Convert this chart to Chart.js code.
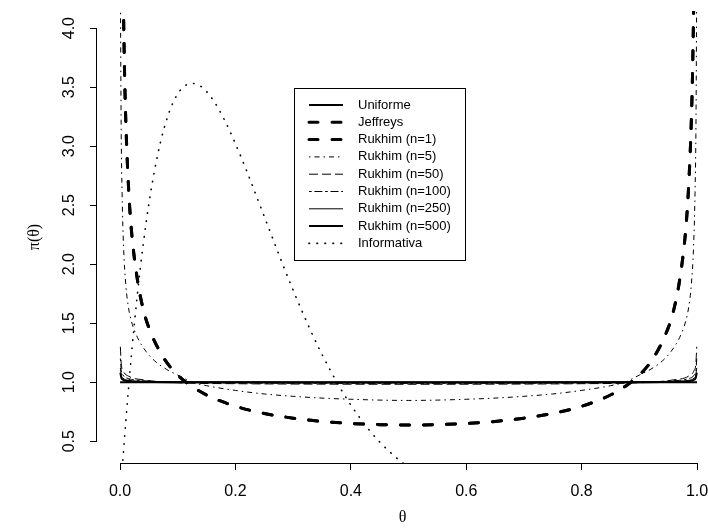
<!DOCTYPE html>
<html>
<head>
<meta charset="utf-8">
<script src="https://cdn.jsdelivr.net/npm/chart.js@4.4.1/dist/chart.umd.min.js"></script>
<style>
  html, body { margin: 0; padding: 0; background: #fff; }
  #wrap { width: 708px; height: 532px; }
</style>
</head>
<body>
<div id="wrap"><canvas id="priorChart"></canvas></div>
<script>
// tick labels
const xTicks = [0, 0.2, 0.4, 0.6, 0.8, 1.0];
const yTicks = [0.5, 1.0, 1.5, 2.0, 2.5, 3.0, 3.5, 4.0];

// Uniforme
const thetaUnif = [0, 1];
const uniforme = [1, 1];

// Jeffreys and Rukhim (n=1) share the same curve
const thetaJef = [0.004, 0.005, 0.0075, 0.01, 0.015, 0.02, 0.03, 0.04, 0.05, 0.075, 0.1, 0.125, 0.15, 0.2, 0.25, 0.3, 0.35, 0.4, 0.45,
                  0.5,
                  0.55, 0.6, 0.65, 0.7, 0.75, 0.8, 0.85, 0.875, 0.9, 0.925, 0.95, 0.96, 0.97, 0.98, 0.985, 0.99, 0.9925, 0.995, 0.996];
const jeffreys = [5.04, 4.51, 3.69, 3.20, 2.62, 2.27, 1.87, 1.62, 1.46, 1.21, 1.06, 0.963, 0.891, 0.796, 0.735, 0.695, 0.667, 0.650, 0.640,
                  0.637,
                  0.640, 0.650, 0.667, 0.695, 0.735, 0.796, 0.891, 0.963, 1.06, 1.21, 1.46, 1.62, 1.87, 2.27, 2.62, 3.20, 3.69, 4.51, 5.04];
const rukhim1 = [5.04, 4.51, 3.69, 3.20, 2.62, 2.27, 1.87, 1.62, 1.46, 1.21, 1.06, 0.963, 0.891, 0.796, 0.735, 0.695, 0.667, 0.650, 0.640,
                 0.637,
                 0.640, 0.650, 0.667, 0.695, 0.735, 0.796, 0.891, 0.963, 1.06, 1.21, 1.46, 1.62, 1.87, 2.27, 2.62, 3.20, 3.69, 4.51, 5.04];

// Rukhim (n=5)
const thetaR5 = [0.0005, 0.001, 0.002, 0.0035, 0.006, 0.01, 0.015, 0.02, 0.03, 0.045, 0.06, 0.08, 0.1, 0.125, 0.15, 0.2, 0.25, 0.3, 0.35, 0.4, 0.45,
                 0.5,
                 0.55, 0.6, 0.65, 0.7, 0.75, 0.8, 0.85, 0.875, 0.9, 0.92, 0.94, 0.955, 0.97, 0.98, 0.985, 0.99, 0.994, 0.9965, 0.998, 0.999, 0.9995];
const rukhim5 = [4.5, 3.9, 3.1, 2.6, 2.15, 1.82, 1.62, 1.51, 1.38, 1.26, 1.18, 1.11, 1.06, 1.0, 0.97, 0.93, 0.9, 0.88, 0.865, 0.855, 0.848,
                 0.845,
                 0.848, 0.855, 0.865, 0.88, 0.9, 0.93, 0.97, 1.0, 1.06, 1.11, 1.18, 1.26, 1.38, 1.51, 1.62, 1.82, 2.15, 2.6, 3.1, 3.9, 4.5];

// Rukhim (n=50, 100, 250, 500)
const thetaEdge = [0.0005, 0.002, 0.005, 0.015, 0.04, 0.1, 0.2, 0.3, 0.5, 0.7, 0.8, 0.9, 0.96, 0.985, 0.995, 0.998, 0.9995];
const rukhim50  = [1.30, 1.16, 1.10, 1.05, 1.02, 0.995, 0.987, 0.984, 0.982, 0.984, 0.987, 0.995, 1.02, 1.05, 1.10, 1.16, 1.30];
const rukhim100 = [1.20, 1.10, 1.06, 1.03, 1.012, 1.0, 0.993, 0.991, 0.990, 0.991, 0.993, 1.0, 1.012, 1.03, 1.06, 1.10, 1.20];
const rukhim250 = [1.12, 1.06, 1.035, 1.015, 1.006, 1.0, 0.997, 0.996, 0.996, 0.996, 0.997, 1.0, 1.006, 1.015, 1.035, 1.06, 1.12];
const rukhim500 = [1.08, 1.04, 1.02, 1.008, 1.003, 1.0, 0.999, 0.998, 0.998, 0.998, 0.999, 1.0, 1.003, 1.008, 1.02, 1.04, 1.08];

// Informativa
const thetaInf = [0, 0.002, 0.005, 0.01, 0.02, 0.03, 0.04, 0.05, 0.06, 0.07, 0.08, 0.09, 0.10, 0.11, 0.125, 0.14, 0.16, 0.18,
                  0.20, 0.22, 0.25, 0.28, 0.30, 0.33, 0.35, 0.38, 0.40, 0.43, 0.45, 0.48, 0.50, 0.55];
const informativa = [0, 0.14, 0.35, 0.67, 1.25, 1.745, 2.164, 2.514, 2.801, 3.033, 3.213, 3.349, 3.444, 3.503, 3.531, 3.507, 3.400, 3.231,
                     3.020, 2.783, 2.403, 2.022, 1.779, 1.440, 1.235, 0.963, 0.806, 0.605, 0.493, 0.355, 0.281, 0.16];

function toPoints(xs, ys) {
    return xs.map((x, i) => ({ x: x, y: ys[i] }));
}

function curve(label, xs, ys, width, dash, cap) {
    return {
        label: label,
        data: toPoints(xs, ys),
        borderColor: '#000',
        borderWidth: width,
        borderDash: dash,
        borderCapStyle: cap || 'butt',
        pointRadius: 0,
        fill: false,
        cubicInterpolationMode: 'monotone'
    };
}

// keep the plot region fixed (no room reserved for overhanging tick labels)
function noPadding(scale) {
    scale.paddingTop = 0;
    scale.paddingBottom = 0;
    scale.paddingLeft = 0;
    scale.paddingRight = 0;
}

// R-style axis lines: only from first to last tick
const axisLines = {
    id: 'axisLines',
    afterDraw(chart) {
        const ctx = chart.ctx;
        const xs = chart.scales.x;
        const ys = chart.scales.y;
        const area = chart.chartArea;
        ctx.save();
        ctx.strokeStyle = '#000';
        ctx.lineWidth = 1;
        ctx.setLineDash([]);
        ctx.beginPath();
        ctx.moveTo(Math.round(xs.getPixelForValue(xTicks[0])) + 0.5, Math.round(area.bottom) + 0.5);
        ctx.lineTo(Math.round(xs.getPixelForValue(xTicks[xTicks.length - 1])) + 0.5, Math.round(area.bottom) + 0.5);
        ctx.moveTo(Math.round(area.left) - 0.5, Math.round(ys.getPixelForValue(yTicks[0])) + 0.5);
        ctx.lineTo(Math.round(area.left) - 0.5, Math.round(ys.getPixelForValue(yTicks[yTicks.length - 1])) + 0.5);
        ctx.stroke();
        ctx.restore();
    }
};

// boxed legend like R's legend()
const boxLegend = {
    id: 'boxLegend',
    afterDraw(chart) {
        const ctx = chart.ctx;
        ctx.save();
        ctx.strokeStyle = '#000';
        ctx.lineWidth = 1;
        ctx.setLineDash([]);
        ctx.strokeRect(294.5, 88.5, 171, 172);
        ctx.font = '13px "Liberation Sans", Arial, sans-serif';
        ctx.fillStyle = '#000';
        ctx.textBaseline = 'middle';
        chart.data.datasets.forEach(function(ds, i) {
            const y = 105 + i * 17.3;
            ctx.beginPath();
            ctx.lineWidth = ds.borderWidth;
            ctx.setLineDash(ds.borderDash || []);
            ctx.lineCap = ds.borderCapStyle || 'butt';
            ctx.moveTo(309, y);
            ctx.lineTo(343, y);
            ctx.stroke();
            ctx.fillText(ds.label, 358, y);
        });
        ctx.restore();
    }
};

Chart.defaults.font.family = '"Liberation Sans", Arial, sans-serif';
Chart.defaults.color = '#000';

new Chart(document.getElementById('priorChart'), {
    type: 'line',
    data: {
        datasets: [
            curve('Uniforme', thetaUnif, uniforme, 2, []),
            curve('Jeffreys', thetaJef, jeffreys, 3, [9, 14], 'round'),
            curve('Rukhim (n=1)', thetaJef, rukhim1, 3, [9, 14], 'round'),
            curve('Rukhim (n=5)', thetaR5, rukhim5, 1, [1.5, 4, 5, 4]),
            curve('Rukhim (n=50)', thetaEdge, rukhim50, 1, [9, 4]),
            curve('Rukhim (n=100)', thetaEdge, rukhim100, 1, [2.7, 2.7, 8, 2.7]),
            curve('Rukhim (n=250)', thetaEdge, rukhim250, 1, []),
            curve('Rukhim (n=500)', thetaEdge, rukhim500, 2, []),
            curve('Informativa', thetaInf, informativa, 1.6, [0.5, 7.5], 'round')
        ]
    },
    options: {
        responsive: true,
        maintainAspectRatio: false,
        animation: false,
        devicePixelRatio: 1,
        layout: {
            autoPadding: false,
            padding: { top: 11, right: 0, left: 0, bottom: 0 }
        },
        plugins: {
            legend: { display: false },
            tooltip: { enabled: false }
        },
        scales: {
            x: {
                type: 'linear',
                min: -0.04,
                max: 1.019,
                afterFit: function(scale) { scale.height = 69; noPadding(scale); },
                afterBuildTicks: function(scale) { scale.ticks = xTicks.map(v => ({ value: v })); },
                border: { display: false },
                grid: { drawOnChartArea: false, drawTicks: true, tickLength: 7, color: '#000' },
                ticks: {
                    includeBounds: false,
                    minRotation: 0,
                    maxRotation: 0,
                    padding: 12,
                    font: { size: 16 },
                    callback: function(v) { return Number(v).toFixed(1); }
                },
                title: {
                    display: true,
                    text: 'θ',
                    font: { family: '"Liberation Serif", serif', size: 16 },
                    padding: { top: 0, bottom: 5 }
                }
            },
            y: {
                type: 'linear',
                min: 0.315,
                max: 4.145,
                afterFit: function(scale) { scale.width = 97; noPadding(scale); },
                afterBuildTicks: function(scale) { scale.ticks = yTicks.map(v => ({ value: v })); },
                border: { display: false },
                grid: { drawOnChartArea: false, drawTicks: true, tickLength: 7, color: '#000' },
                ticks: {
                    includeBounds: false,
                    minRotation: 90,
                    maxRotation: 90,
                    crossAlign: 'center',
                    padding: 9,
                    font: { size: 16 },
                    callback: function(v) { return Number(v).toFixed(1); }
                },
                title: {
                    display: true,
                    text: 'π(θ)',
                    font: { family: '"Liberation Serif", serif', size: 16 },
                    padding: { top: 25, bottom: 0 }
                }
            }
        }
    },
    plugins: [axisLines, boxLegend]
});
</script>
</body>
</html>
